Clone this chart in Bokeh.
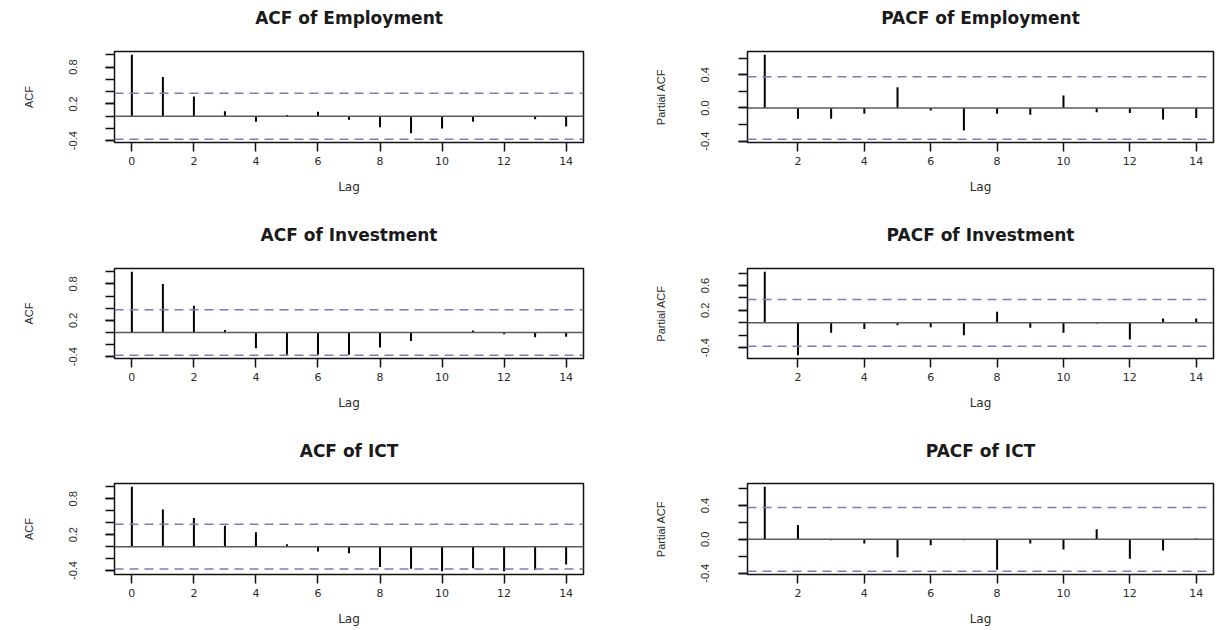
from bokeh.plotting import figure
from bokeh.models import Range1d, FixedTicker, Span, PrintfTickFormatter, Title
from bokeh.layouts import column, row
from bokeh.embed import file_html
from bokeh.resources import INLINE

# ---------------- data ----------------
lags_acf = list(range(0, 15))
lags_pacf = list(range(1, 15))

acf_employment = [1.0, 0.64, 0.32, 0.08, -0.09, 0.02, 0.07, -0.06, -0.18, -0.28, -0.20, -0.09, -0.01, -0.05, -0.17]
pacf_employment = [0.64, -0.13, -0.13, -0.07, 0.25, -0.03, -0.27, -0.07, -0.08, 0.15, -0.05, -0.06, -0.14, -0.12]
acf_investment = [1.0, 0.80, 0.44, 0.04, -0.26, -0.37, -0.37, -0.37, -0.25, -0.14, -0.01, 0.03, -0.03, -0.08, -0.07]
pacf_investment = [0.82, -0.52, -0.16, -0.10, -0.04, -0.07, -0.20, 0.18, -0.08, -0.16, -0.01, -0.27, 0.07, 0.07]
acf_ict = [1.0, 0.62, 0.48, 0.35, 0.24, 0.04, -0.08, -0.11, -0.34, -0.37, -0.41, -0.36, -0.41, -0.39, -0.30]
pacf_ict = [0.62, 0.17, -0.01, -0.05, -0.21, -0.07, -0.01, -0.36, -0.05, -0.12, 0.12, -0.23, -0.13, 0.01]

ci_bound = 0.375

acf_xticks = [0, 2, 4, 6, 8, 10, 12, 14]
pacf_xticks = [2, 4, 6, 8, 10, 12, 14]

acf_ylabels = [-0.4, 0.2, 0.8]
acf_yminor = [-0.4, -0.2, 0.0, 0.2, 0.4, 0.6, 0.8, 1.0]
pacf_emp_ylabels = [-0.4, 0.0, 0.4]
pacf_emp_yminor = [-0.4, -0.2, 0.0, 0.2, 0.4, 0.6]
pacf_inv_ylabels = [-0.4, 0.2, 0.6]
pacf_inv_yminor = [-0.4, -0.2, 0.0, 0.2, 0.4, 0.6, 0.8]

titles = ["ACF of Employment", "PACF of Employment",
          "ACF of Investment", "PACF of Investment",
          "ACF of ICT", "PACF of ICT"]

# ---------------- styling ----------------
TXT = "#2a2a2a"
CI_COLOR = "#7b7bb8"


def panel(title, lags, vals, xticks, ylabels, yminor, ylab, left_col, fig_h, b_top, b_bot, gap):
    lo = min(min(vals), -ci_bound)
    hi = max(max(vals), ci_bound)
    pad = 0.04 * (hi - lo)
    xl = lags[0] - 0.04 * (lags[-1] - lags[0])
    xh = lags[-1] + 0.04 * (lags[-1] - lags[0])
    if left_col:
        bl, br = 114, 25
    else:
        bl, br = 139, 3
    p = figure(width=608, height=fig_h, output_backend="svg", toolbar_location=None,
               x_range=Range1d(xl, xh), y_range=Range1d(lo - pad, hi + pad),
               min_border_left=bl, min_border_right=br,
               min_border_top=b_top, min_border_bottom=b_bot)
    p.background_fill_color = "white"
    p.border_fill_color = "white"
    p.outline_line_color = "#111111"
    p.outline_line_width = 1.5
    p.xgrid.visible = False
    p.ygrid.visible = False

    # spacer between frame and title (empty-looking title panel)
    p.add_layout(Title(text=" ", text_font_size="1px", standoff=gap), "above")

    p.title.text = title
    p.title.align = "center"
    p.title.vertical_align = "top"
    p.title.text_font = "DejaVu Sans"
    p.title.text_font_size = "17px"
    p.title.text_font_style = "bold"
    p.title.text_color = "#1a1a1a"
    p.title.standoff = 0

    # reference lines
    p.add_layout(Span(location=0, dimension="width", line_color="#5a5a5a", line_width=1.5))
    p.add_layout(Span(location=ci_bound, dimension="width", line_color=CI_COLOR,
                      line_width=1.5, line_dash="9 6"))
    p.add_layout(Span(location=-ci_bound, dimension="width", line_color=CI_COLOR,
                      line_width=1.5, line_dash="9 6"))

    zeros = [0.0] * len(lags)
    p.segment(x0=lags, y0=zeros, x1=lags, y1=vals, line_color="black", line_width=2)

    xa = p.xaxis[0]
    xa.ticker = FixedTicker(ticks=xticks)
    xa.axis_line_color = None
    xa.major_tick_in = 0
    xa.major_tick_out = 9
    xa.major_tick_line_width = 1.5
    xa.major_tick_line_color = "#111111"
    xa.minor_tick_line_color = None
    xa.major_label_text_font = "DejaVu Sans"
    xa.major_label_text_font_size = "11px"
    xa.major_label_text_color = TXT
    xa.major_label_standoff = 5
    xa.axis_label = "Lag"
    xa.axis_label_text_font = "DejaVu Sans"
    xa.axis_label_text_font_size = "12px"
    xa.axis_label_text_font_style = "normal"
    xa.axis_label_text_color = TXT
    xa.axis_label_standoff = 12

    ya = p.yaxis[0]
    ya.ticker = FixedTicker(ticks=ylabels, minor_ticks=yminor)
    ya.formatter = PrintfTickFormatter(format="%.1f")
    ya.axis_line_color = None
    ya.major_tick_in = 0
    ya.major_tick_out = 9
    ya.minor_tick_in = 0
    ya.minor_tick_out = 9
    ya.major_tick_line_width = 1.5
    ya.minor_tick_line_width = 1.5
    ya.major_tick_line_color = "#111111"
    ya.minor_tick_line_color = "#111111"
    ya.major_label_orientation = "vertical"
    ya.major_label_text_font = "Liberation Sans"
    ya.major_label_text_font_size = "11px"
    ya.major_label_text_color = TXT
    ya.major_label_standoff = 28 if left_col else 29
    ya.axis_label = ylab
    ya.axis_label_text_font = "Liberation Sans"
    ya.axis_label_text_font_size = "11px"
    ya.axis_label_text_font_style = "normal"
    ya.axis_label_text_color = TXT
    ya.axis_label_standoff = 32 if left_col else 32
    return p


rows_spec = [(224, 51, 82, 19), (214, 44, 80, 19), (192, 45, 56, 18)]

p1 = panel(titles[0], lags_acf, acf_employment, acf_xticks, acf_ylabels, acf_yminor, "ACF", True, *rows_spec[0])
p2 = panel(titles[1], lags_pacf, pacf_employment, pacf_xticks, pacf_emp_ylabels, pacf_emp_yminor, "Partial ACF", False, *rows_spec[0])
p3 = panel(titles[2], lags_acf, acf_investment, acf_xticks, acf_ylabels, acf_yminor, "ACF", True, *rows_spec[1])
p4 = panel(titles[3], lags_pacf, pacf_investment, pacf_xticks, pacf_inv_ylabels, pacf_inv_yminor, "Partial ACF", False, *rows_spec[1])
p5 = panel(titles[4], lags_acf, acf_ict, acf_xticks, acf_ylabels, acf_yminor, "ACF", True, *rows_spec[2])
p6 = panel(titles[5], lags_pacf, pacf_ict, pacf_xticks, pacf_emp_ylabels, pacf_emp_yminor, "Partial ACF", False, *rows_spec[2])

layout = column(row(p1, p2), row(p3, p4), row(p5, p6))

open("out.html", "w").write(file_html(layout, INLINE))
